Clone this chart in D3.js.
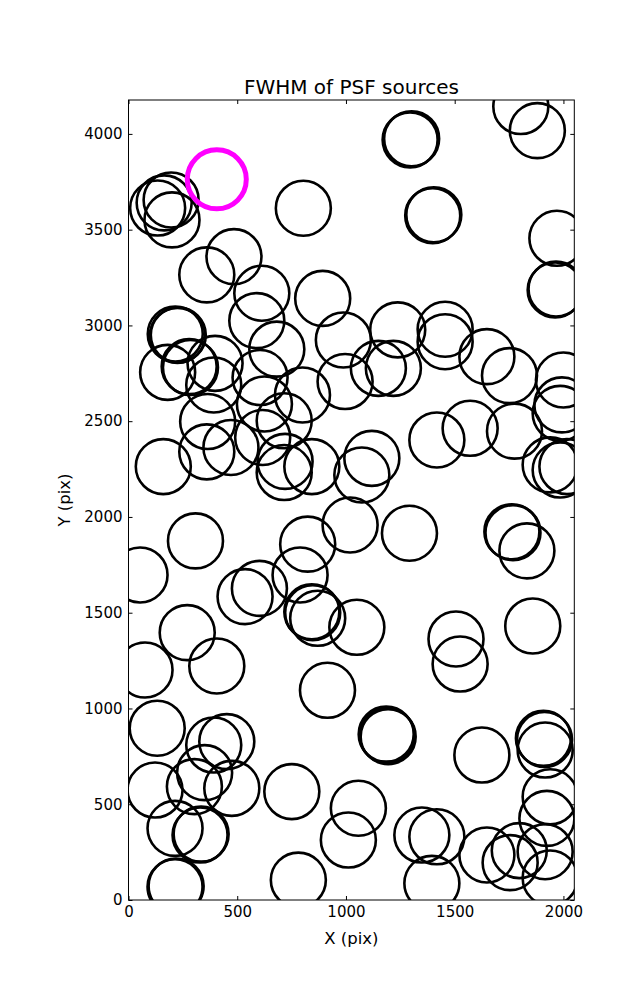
<!DOCTYPE html>
<html>
<head>
<meta charset="utf-8">
<script src="https://cdn.jsdelivr.net/npm/d3@7"></script>
<style>
body { margin: 0; background: #fff; }
svg { display: block; }
text { font-family: "DejaVu Sans", sans-serif; }
</style>
</head>
<body>
<svg id="chart" width="637" height="1000"></svg>
<script>
// ---- data ----
const titleText = "FWHM of PSF sources";
const xLabel = "X (pix)";
const yLabel = "Y (pix)";
const xTicks = [0, 500, 1000, 1500, 2000];
const yTicks = [0, 500, 1000, 1500, 2000, 2500, 3000, 3500, 4000];
const xDomain = [0, 2050];
const yDomain = [0, 4177];

// PSF source positions (X pix)
const srcX = [1295,1302,1399,1404,1804,1880,804,1970,1962,1966,
  134,164,196,200,360,485,613,893,590,1238,
  1456,1456,988,996,1149,1218,1648,1752,2000,1993,
  1985,1418,1571,1775,1939,1985,2016,1119,1073,1019,
  1292,1763,1768,1832,215,225,229,180,279,285,
  398,392,682,605,625,800,716,364,360,471,
  617,720,716,843,160,308,53,824,536,602,
  789,843,847,870,1050,270,406,76,915,1506,
  1525,1859,1185,1190,1194,1625,1908,1913,1916,1939,
  1924,1916,1939,1797,1755,1648,1395,1349,1418,1057,
  1011,781,751,214,219,329,334,214,122,303,
  350,475,132,392,452];
// PSF source positions (Y pix)
const srcY = [3969,3975,3573,3578,4143,4017,3612,3455,3185,3190,
  3613,3640,3655,3551,3264,3359,3168,3141,3025,2977,
  2980,2915,2924,2707,2776,2776,2837,2738,2715,2585,
  2541,2402,2463,2448,2272,2245,2263,2306,2219,1958,
  1915,1923,1918,1823,2955,2948,2950,2755,2785,2780,
  2802,2689,2876,2728,2590,2637,2502,2498,2340,2363,
  2415,2290,2232,2263,2263,1875,1697,1858,1584,1627,
  1697,1505,1500,1471,1424,1396,1222,1201,1095,1363,
  1232,1431,866,858,853,757,844,838,783,539,
  426,252,115,258,195,235,87,339,330,479,
  313,104,566,69,73,339,344,374,574,592,
  665,583,897,809,827];
// highlighted source
const refX = [406];
const refY = [3763];

// ---- layout ----
const W = 637, H = 1000;
const m = {left: 128.5, right: 637 - 574.3, top: 100, bottom: 100};
const svg = d3.select("#chart");

const x = d3.scaleLinear().domain(xDomain).range([m.left, W - m.right]);
const y = d3.scaleLinear().domain(yDomain).range([H - m.bottom, m.top]);

svg.append("defs").append("clipPath").attr("id", "plotclip")
  .append("rect")
  .attr("x", x(xDomain[0])).attr("y", y(yDomain[1]))
  .attr("width", x(xDomain[1]) - x(xDomain[0]))
  .attr("height", y(yDomain[0]) - y(yDomain[1]));

const pts = srcX.map((v, i) => ({x: v, y: srcY[i]}));
const R = 27.5;

const g = svg.append("g").attr("clip-path", "url(#plotclip)");
g.selectAll("circle.src").data(pts).enter().append("circle")
  .attr("class", "src")
  .attr("cx", d => x(d.x)).attr("cy", d => y(d.y)).attr("r", R)
  .attr("fill", "none").attr("stroke", "#000").attr("stroke-width", 2.6);

g.selectAll("circle.ref").data(refX.map((v, i) => ({x: v, y: refY[i]}))).enter().append("circle")
  .attr("class", "ref")
  .attr("cx", d => x(d.x)).attr("cy", d => y(d.y)).attr("r", 29.5)
  .attr("fill", "none").attr("stroke", "#ff00ff").attr("stroke-width", 5);

// axes (ticks inward)
function styleAxis(sel, showText) {
  sel.select(".domain").remove();
  sel.selectAll(".tick line").attr("stroke", "#000").attr("stroke-width", 1);
  sel.selectAll(".tick text").attr("fill", "#000").style("font-size", "15px");
  if (!showText) sel.selectAll(".tick text").remove();
}
svg.append("g").attr("transform", `translate(0,${y(yDomain[0])})`)
  .call(d3.axisBottom(x).tickValues(xTicks).tickSize(-4).tickPadding(6).tickFormat(d3.format("d")))
  .call(s => styleAxis(s, true));
svg.append("g").attr("transform", `translate(0,${y(yDomain[1])})`)
  .call(d3.axisTop(x).tickValues(xTicks).tickSize(-4))
  .call(s => styleAxis(s, false));
svg.append("g").attr("transform", `translate(${x(xDomain[0])},0)`)
  .call(d3.axisLeft(y).tickValues(yTicks).tickSize(-4).tickPadding(6).tickFormat(d3.format("d")))
  .call(s => styleAxis(s, true));
svg.append("g").attr("transform", `translate(${x(xDomain[1])},0)`)
  .call(d3.axisRight(y).tickValues(yTicks).tickSize(-4))
  .call(s => styleAxis(s, false));

// frame
svg.append("rect")
  .attr("x", x(xDomain[0])).attr("y", y(yDomain[1]))
  .attr("width", x(xDomain[1]) - x(xDomain[0]))
  .attr("height", y(yDomain[0]) - y(yDomain[1]))
  .attr("fill", "none").attr("stroke", "#000").attr("stroke-width", 1);

// title and labels
svg.append("text").attr("x", (x(xDomain[0]) + x(xDomain[1])) / 2).attr("y", 94)
  .attr("text-anchor", "middle").style("font-size", "20px").text(titleText);
svg.append("text").attr("x", (x(xDomain[0]) + x(xDomain[1])) / 2).attr("y", 944)
  .attr("text-anchor", "middle").style("font-size", "16.5px").text(xLabel);
svg.append("text")
  .attr("transform", `translate(70,${(y(yDomain[0]) + y(yDomain[1])) / 2}) rotate(-90)`)
  .attr("text-anchor", "middle").style("font-size", "16.5px").text(yLabel);
</script>
</body>
</html>
